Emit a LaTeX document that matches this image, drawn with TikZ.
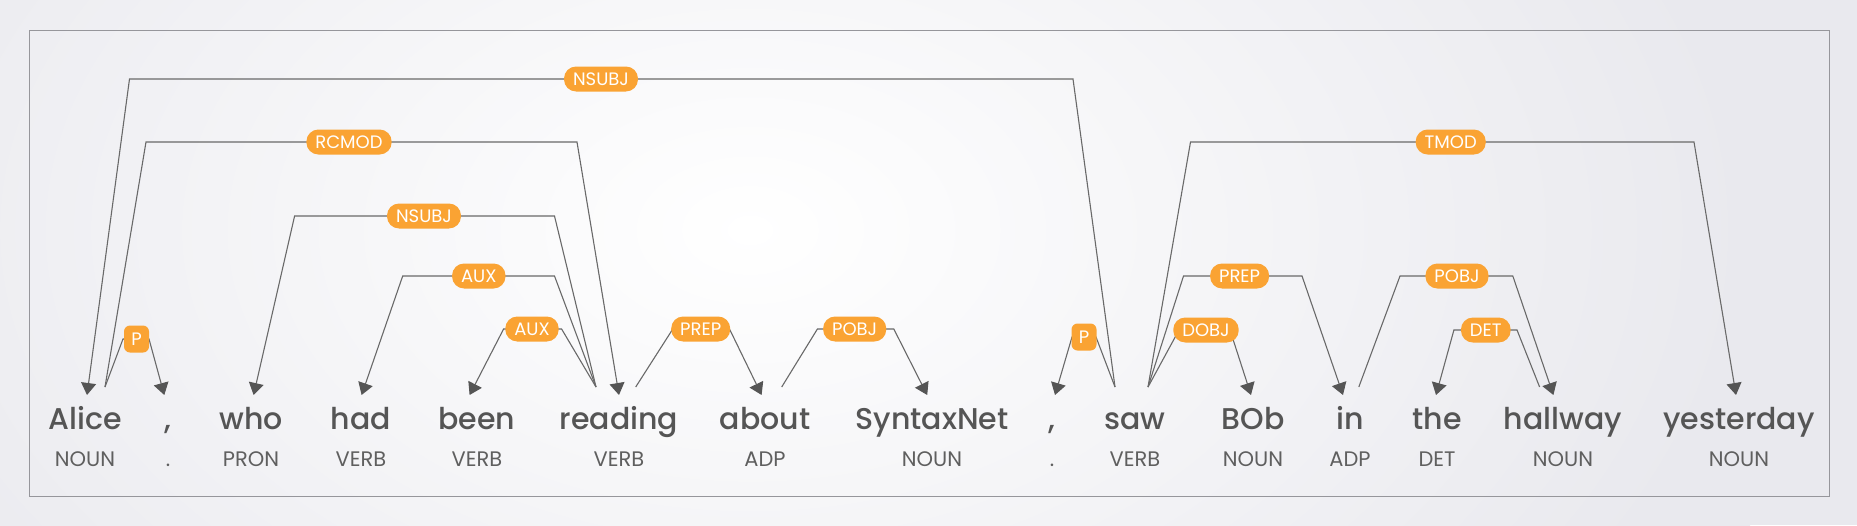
\documentclass[tikz,border=0pt]{standalone}
\usepackage{fontspec}
\setmainfont{Poppins}
\newfontfamily\wordfont{Poppins Medium}
\usetikzlibrary{arrows.meta}
\definecolor{bgcol}{RGB}{233,233,238}
\definecolor{framecol}{RGB}{150,150,155}
\definecolor{linecol}{RGB}{105,105,105}
\definecolor{arrowcol}{RGB}{85,85,85}
\definecolor{wordcol}{RGB}{85,85,85}
\definecolor{tagcol}{RGB}{95,95,95}
\definecolor{lblcol}{RGB}{250,163,51}
\tikzset{
  word/.style={anchor=base, inner sep=0pt, text=wordcol, font=\wordfont\fontsize{30}{31}\selectfont},
  tag/.style={anchor=base, inner sep=0pt, text=tagcol, font=\fontsize{21}{22}\selectfont},
  arcline/.style={draw=linecol, line width=1.1pt, -{Triangle[length=12pt,width=15pt,color=arrowcol]}},
  lbl/.style={fill=lblcol, text=white, rounded corners=12pt, minimum height=25pt, inner xsep=9pt, inner ysep=0pt, font=\fontsize{18}{19}\selectfont},
  plbl/.style={rounded corners=6pt, minimum width=25pt, minimum height=27pt, inner xsep=0pt},
}
\newcommand{\deparc}[9]{%
  \coordinate (#1s) at (#2,387);
  \coordinate (#1t) at (#5,395);
  \draw[arcline] (#1s) -- (#3,#6) -- (#4,#6) -- (#1t);
  \node[lbl,#9] (#1) at (#7,#6) {#8};
}
\begin{document}
\begin{tikzpicture}[x=1pt,y=-1pt]
\useasboundingbox (0,0) rectangle (1857,525);
\fill[bgcol] (0,0) rectangle (1857,525);
\shade[inner color=white, outer color=bgcol] (-250,-420) rectangle (1750,880);
\draw[framecol, line width=1.2pt] (29.6,30.7) rectangle (1829.5,496.5);
% arcs
\deparc{nsubjA}{1115}{1073}{129.5}{87}{79}{601}{NSUBJ}{}
\deparc{rcmod}{105}{146}{577}{619}{142}{349}{RCMOD}{}
\deparc{nsubjB}{596}{554.5}{294.6}{253.6}{216}{424}{NSUBJ}{}
\deparc{auxA}{596}{554.5}{402.7}{361.6}{276}{478.8}{AUX}{}
\deparc{auxB}{596}{561.6}{503.6}{469.6}{329}{532}{AUX}{}
\deparc{pA}{105}{123}{149}{164.3}{339}{136.5}{P}{plbl}
\deparc{prepA}{635.7}{672.8}{729.5}{761.6}{329}{700.7}{PREP}{}
\deparc{pobjA}{781.7}{817.4}{893.8}{927.2}{329}{854.7}{POBJ}{}
\deparc{pB}{1115}{1096}{1072}{1055}{337}{1084}{P}{plbl}
\deparc{dobj}{1148}{1179}{1230}{1251}{330}{1206}{DOBJ}{}
\deparc{prepB}{1148}{1183.5}{1302}{1343}{276}{1239.6}{PREP}{}
\deparc{tmod}{1148}{1190.5}{1694}{1736}{142}{1450.7}{TMOD}{}
\deparc{pobjB}{1358.8}{1400}{1512.8}{1553.4}{276}{1457}{POBJ}{}
\deparc{det}{1539.6}{1517}{1453.9}{1436}{330}{1485.8}{DET}{}
% words and tags
\foreach \i/\x/\w/\t in {1/85/Alice/NOUN, 2/168/{,}/., 3/251/who/PRON, 4/361/had/VERB, 5/477/been/VERB, 6/619/reading/VERB, 7/765/about/ADP, 8/932/SyntaxNet/NOUN, 9/1052/{,}/., 10/1135/saw/VERB, 11/1253/BOb/NOUN, 12/1350/in/ADP, 13/1437/the/DET, 14/1563/hallway/NOUN, 15/1739/yesterday/NOUN}{
  \node[word] (w\i) at (\x,429) {\w};
  \node[tag] (t\i) at (\x,466) {\t};
}
\end{tikzpicture}
\end{document}
